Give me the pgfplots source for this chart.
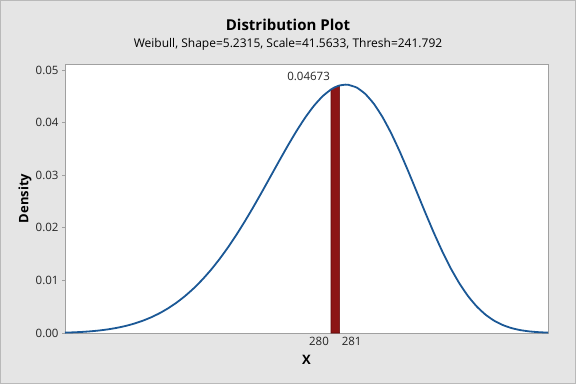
\documentclass[border=0pt]{standalone}
\usepackage{pgfplots}
\pgfplotsset{compat=1.18}
\usepackage{fontspec}
\setmainfont{Open Sans}
\definecolor{bgc}{RGB}{229,229,229}
\definecolor{framec}{RGB}{160,160,160}
\definecolor{curvec}{RGB}{27,88,150}
\definecolor{barc}{RGB}{140,22,22}
\definecolor{baredge}{RGB}{95,10,10}
\begin{document}
\begin{tikzpicture}[x=1bp,y=1bp]
\fill[bgc] (0,0) rectangle (576,384);
\draw[gray!55, line width=1bp] (0.5,0.5) rectangle (575.5,383.5);
\node[font=\fontsize{15bp}{18bp}\selectfont\bfseries] at (288,359) {Distribution Plot};
\node[font=\fontsize{12bp}{14bp}\selectfont] at (288,340) {Weibull, Shape=5.2315, Scale=41.5633, Thresh=241.792};
\begin{axis}[
  at={(65bp,51bp)}, anchor=south west, scale only axis,
  width=483bp, height=269bp,
  xmin=248.94, xmax=305.33, ymin=0, ymax=0.05114,
  axis background/.style={fill=white},
  axis line style={draw=framec, line width=0.8bp},
  xtick=\empty,
  ytick={0,0.01,0.02,0.03,0.04,0.05},
  ytick pos=left,
  tick align=outside,
  major tick length=3bp,
  tick style={draw=framec, line width=0.8bp},
  scaled y ticks=false,
  yticklabel style={/pgf/number format/fixed, /pgf/number format/fixed zerofill, /pgf/number format/precision=2, /pgf/number format/assume math mode=true, font=\fontsize{11.5bp}{13bp}\selectfont, text=black!85},
  xlabel={X}, ylabel={Density},
  every axis x label/.style={at={(axis description cs:0.5,0)}, anchor=center, yshift=-27bp, font=\fontsize{13bp}{15bp}\selectfont\bfseries},
  every axis y label/.style={at={(axis description cs:-0.083,0.5)}, anchor=center, rotate=90, font=\fontsize{13bp}{15bp}\selectfont\bfseries},
  clip=false,
]
\addplot[draw=baredge, line width=0.6bp, fill=barc] coordinates {
(280,0) (280,0.0463047) (280.5,0.0467561) (281,0.0470587) (281,0)} -- cycle;
\addplot[curvec, line width=1.8bp, smooth, tension=0.3] coordinates {
(248.94,0.0000732) (249,0.0000759) (250,0.0001315) (251,0.0002138) (252,0.0003307)
(253,0.0004909) (254,0.0007043) (255,0.0009819) (256,0.0013357) (257,0.0017783)
(258,0.0023236) (259,0.0029856) (260,0.0037788) (261,0.0047178) (262,0.0058167)
(263,0.0070887) (264,0.0085455) (265,0.0101962) (266,0.0120470) (267,0.0141002)
(268,0.0163511) (269,0.0187906) (270,0.0214013) (271,0.0241559) (272,0.0270192)
(273,0.0299453) (274,0.0328768) (275,0.0357468) (276,0.0384797) (277,0.0409891)
(278,0.0431889) (279,0.0449894) (280,0.0463047) (280.5,0.0467561) (281,0.0470587)
(281.7,0.0472170) (282,0.0471898) (283,0.0466570) (284,0.0454454) (285,0.0435693)
(286,0.0410743) (287,0.0380397) (288,0.0345686) (289,0.0307915) (290,0.0268511)
(291,0.0228937) (292,0.0190589) (293,0.0154704) (294,0.0122258) (295,0.0093918)
(296,0.0070017) (297,0.0050571) (298,0.0035324) (299,0.0023818) (300,0.0015471)
(301,0.0009662) (302,0.0005789) (303,0.0003321) (304,0.0001820) (305,0.0000950)
(305.33,0.0000758)};
\node[anchor=north east, font=\fontsize{11.5bp}{13bp}\selectfont, text=black!85, inner sep=0pt] at (axis cs:280,0) [yshift=-4bp, xshift=-2bp] {280};
\node[anchor=north west, font=\fontsize{11.5bp}{13bp}\selectfont, text=black!85, inner sep=0pt] at (axis cs:281,0) [yshift=-4bp, xshift=2bp] {281};
\node[anchor=south east, font=\fontsize{11.5bp}{13bp}\selectfont, text=black!85, inner sep=0pt] at (axis cs:280,0.0480) [xshift=-1bp] {0.04673};
\end{axis}
\end{tikzpicture}
\end{document}
